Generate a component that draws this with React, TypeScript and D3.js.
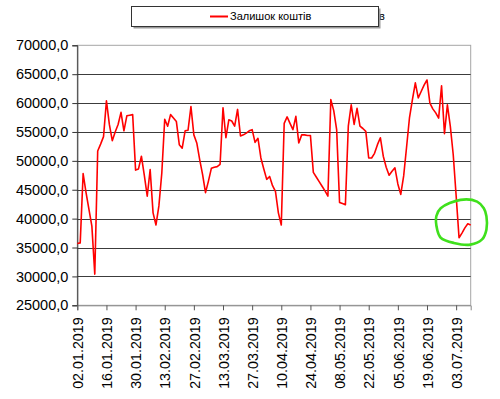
import { useEffect, useRef } from 'react';
import * as d3 from 'd3';

// робочі дні (категорії осі X)
const dates = [
  '02.01.2019', '03.01.2019', '04.01.2019', '07.01.2019', '08.01.2019', '09.01.2019', '10.01.2019', '11.01.2019',
  '14.01.2019', '15.01.2019', '16.01.2019', '17.01.2019', '18.01.2019', '21.01.2019', '22.01.2019', '23.01.2019',
  '24.01.2019', '25.01.2019', '28.01.2019', '29.01.2019', '30.01.2019', '31.01.2019',
  '01.02.2019', '04.02.2019', '05.02.2019', '06.02.2019', '07.02.2019', '08.02.2019', '11.02.2019', '12.02.2019',
  '13.02.2019', '14.02.2019', '15.02.2019', '18.02.2019', '19.02.2019', '20.02.2019', '21.02.2019', '22.02.2019',
  '25.02.2019', '26.02.2019', '27.02.2019', '28.02.2019',
  '01.03.2019', '04.03.2019', '05.03.2019', '06.03.2019', '07.03.2019', '08.03.2019', '11.03.2019', '12.03.2019',
  '13.03.2019', '14.03.2019', '15.03.2019', '18.03.2019', '19.03.2019', '20.03.2019', '21.03.2019', '22.03.2019',
  '25.03.2019', '26.03.2019', '27.03.2019', '28.03.2019', '29.03.2019',
  '01.04.2019', '02.04.2019', '03.04.2019', '04.04.2019', '05.04.2019', '08.04.2019', '09.04.2019', '10.04.2019',
  '11.04.2019', '12.04.2019', '15.04.2019', '16.04.2019', '17.04.2019', '18.04.2019', '19.04.2019', '22.04.2019',
  '23.04.2019', '24.04.2019', '25.04.2019', '26.04.2019', '29.04.2019', '30.04.2019',
  '01.05.2019', '02.05.2019', '03.05.2019', '06.05.2019', '07.05.2019', '08.05.2019', '09.05.2019', '10.05.2019',
  '13.05.2019', '14.05.2019', '15.05.2019', '16.05.2019', '17.05.2019', '20.05.2019', '21.05.2019', '22.05.2019',
  '23.05.2019', '24.05.2019', '27.05.2019', '28.05.2019', '29.05.2019', '30.05.2019', '31.05.2019',
  '03.06.2019', '04.06.2019', '05.06.2019', '06.06.2019', '07.06.2019', '10.06.2019', '11.06.2019', '12.06.2019',
  '13.06.2019', '14.06.2019', '17.06.2019', '18.06.2019', '19.06.2019', '20.06.2019', '21.06.2019', '24.06.2019',
  '25.06.2019', '26.06.2019', '27.06.2019', '28.06.2019',
  '01.07.2019', '02.07.2019', '03.07.2019', '04.07.2019', '05.07.2019', '08.07.2019', '09.07.2019', '10.07.2019',
];

// залишок коштів на кожен день
const balance = [
  35700, 35800, 47800, 44500, 41600, 38700, 30400, 51700, 52900, 54200,
  60400, 56300, 53500, 55000, 56300, 58400, 55200, 57800, 57900, 58000,
  48400, 48600, 50800, 47500, 43900, 48500, 41000, 38900, 42200, 47900,
  57200, 56000, 58000, 57400, 56800, 52800, 52200, 55200, 55300, 59400,
  54500, 53100, 50200, 47600, 44500, 46500, 48700, 48900, 49000, 49400,
  59200, 54000, 57100, 56900, 56000, 58900, 54300, 54500, 54800, 55200,
  55400, 53200, 53900, 50500, 48600, 46800, 47300, 45700, 44700, 41000,
  38900, 56500, 57600, 56500, 55400, 57700, 53100, 54500, 54500, 54400,
  54400, 48000, 47200, 46400, 45600, 44800, 43900, 60600, 58700, 55400,
  42800, 42600, 42400, 56000, 59700, 56300, 59100, 56000, 55600, 55100,
  50500, 50500, 51300, 52800, 54000, 50800, 48900, 47500, 48200, 48800,
  46000, 44200, 47400, 52400, 57500, 60600, 63500, 60900, 62000, 63100,
  64000, 60000, 59000, 58300, 57400, 63000, 54700, 59700, 56000, 51100,
  44000, 36700, 37500, 38400, 39100, 38900,
];

const yTicks = [25000, 30000, 35000, 40000, 45000, 50000, 55000, 60000, 65000, 70000];
const seriesName = 'Залишок коштів';

// зелена позначка від руки: [індекс дня, значення]
const markIdx = [124.7, 131.5, 137.2, 139.5, 140.4, 140.4, 138.9, 134.9, 129.2, 124.7, 123.5, 123.2];
const markVal = [41800, 43250, 42950, 41800, 40400, 38100, 36400, 35500, 35800, 36700, 38100, 40400];

const W = 500;
const H = 399;
const FONT = '"Liberation Sans", Arial, sans-serif';

export default function App() {
  const svgRef = useRef<SVGSVGElement | null>(null);

  useEffect(() => {
    if (!svgRef.current) return;
    const svg = d3.select(svgRef.current);
    svg.selectAll('*').remove();

    const left = 77.3;
    const right = 470.7;
    const top = 45.3;
    const bottom = 305.3;

    const x = d3.scaleLinear().domain([0, dates.length - 1]).range([left, right]);
    const y = d3.scaleLinear().domain([25000, 70000]).range([bottom, top]);

    // рамка області побудови
    svg.append('rect')
      .attr('x', left).attr('y', top)
      .attr('width', right - left).attr('height', bottom - top)
      .attr('fill', '#fff')
      .attr('stroke', '#a6a6a6')
      .attr('stroke-width', 1);

    // сітка
    svg.append('g')
      .selectAll('line')
      .data(yTicks.filter(v => v > 25000 && v < 70000))
      .join('line')
      .attr('x1', left).attr('x2', right)
      .attr('y1', d => Math.round(y(d)) + 0.5).attr('y2', d => Math.round(y(d)) + 0.5)
      .attr('stroke', '#3c3c3c')
      .attr('stroke-width', 1);

    // вісь Y
    const yAxis = svg.append('g')
      .attr('transform', `translate(${left},0)`)
      .call(d3.axisLeft(y).tickValues(yTicks).tickSize(5).tickPadding(4)
        .tickFormat(v => (v as number).toFixed(1).replace('.', ',')));
    yAxis.select('.domain').attr('stroke', '#333');
    yAxis.selectAll('.tick line').attr('stroke', '#333');
    yAxis.selectAll('text')
      .attr('font-family', FONT)
      .attr('font-size', 14.5)
      .attr('fill', '#000');

    // вісь X
    const xAxis = svg.append('g')
      .attr('transform', `translate(0,${bottom})`)
      .call(d3.axisBottom(x).tickValues(d3.range(0, dates.length, 10)).tickSize(5)
        .tickFormat(i => dates[i as number]));
    xAxis.select('.domain').attr('stroke', '#888');
    xAxis.selectAll('.tick line').attr('stroke', '#555');
    xAxis.selectAll('text')
      .attr('font-family', FONT)
      .attr('font-size', 14.3)
      .attr('fill', '#000')
      .attr('text-anchor', 'end')
      .attr('transform', 'rotate(-90)')
      .attr('x', -12)
      .attr('y', 0)
      .attr('dy', '0.36em');

    // лінія залишку
    const line = d3.line<number>()
      .x((_, i) => x(i))
      .y(d => y(d));

    svg.append('path')
      .datum(balance)
      .attr('d', line)
      .attr('fill', 'none')
      .attr('stroke', '#ff0000')
      .attr('stroke-width', 1.6)
      .attr('stroke-linejoin', 'round');

    // легенда
    const lg = svg.append('g');
    lg.append('text')
      .attr('x', 379).attr('y', 16.5)
      .attr('dy', '0.35em')
      .attr('font-family', FONT).attr('font-size', 11)
      .text('в');
    lg.append('rect')
      .attr('x', 133.5).attr('y', 8.5).attr('width', 247).attr('height', 20)
      .attr('fill', '#9a9a9a');
    lg.append('rect')
      .attr('x', 131.5).attr('y', 6.5).attr('width', 247).attr('height', 20)
      .attr('fill', '#fff')
      .attr('stroke', '#333')
      .attr('stroke-width', 1);
    lg.append('line')
      .attr('x1', 210).attr('x2', 228)
      .attr('y1', 16.5).attr('y2', 16.5)
      .attr('stroke', '#ff0000').attr('stroke-width', 2);
    lg.append('text')
      .attr('x', 230).attr('y', 16.5)
      .attr('dy', '0.35em')
      .attr('font-family', FONT).attr('font-size', 11)
      .attr('fill', '#000')
      .text(seriesName);

    // зелене коло
    const mark = d3.line<number>()
      .x(d => x(markIdx[d]))
      .y(d => y(markVal[d]))
      .curve(d3.curveCatmullRomClosed);
    svg.append('path')
      .datum(d3.range(markIdx.length))
      .attr('d', mark)
      .attr('fill', 'none')
      .attr('stroke', '#3fe01c')
      .attr('stroke-width', 2.6);
  }, []);

  return (
    <div style={{ position: 'absolute', left: 0, top: 0 }}>
      <svg ref={svgRef} width={W} height={H} style={{ display: 'block', background: '#fff' }} />
    </div>
  );
}
